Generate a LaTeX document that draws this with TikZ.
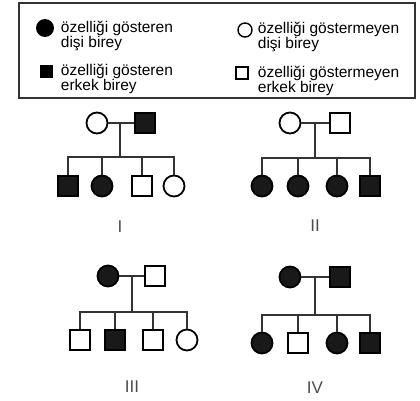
\documentclass[tikz,border=0pt]{standalone}
\usepackage{fontspec}
\setmainfont{Liberation Sans}
\begin{document}
\begin{tikzpicture}[x=1pt,y=-1pt,
  line width=1.8pt,
  fem/.style={circle,draw=black,line width=1.8pt,minimum size=21pt,inner sep=0pt},
  mal/.style={rectangle,draw=black,line width=1.8pt,minimum size=20pt,inner sep=0pt},
  aff/.style={fill=black!90},
  una/.style={fill=white},
  legtxt/.style={anchor=north west,inner sep=0pt,align=left,font=\fontsize{15.5}{15}\selectfont,text=black},
  lbl/.style={font=\fontsize{17}{18}\selectfont,text=black!70},
  ln/.style={draw=black!80,line width=2pt}
]
\useasboundingbox (0,0) rectangle (420,401);
% legend
\draw[draw=black!80,line width=2.2pt] (19,3) rectangle (415,98);
\node[circle,fill=black,minimum size=18pt,inner sep=0pt] (lc1) at (45,28) {};
\node[legtxt] (lt1) at (60,20) {özelliği gösteren\\dişi birey};
\node[rectangle,fill=black,minimum size=13pt,inner sep=0pt] (ls1) at (46,72) {};
\node[legtxt] (lt2) at (60,63) {özelliği gösteren\\erkek birey};
\node[circle,draw=black,line width=1.4pt,minimum size=14pt,inner sep=0pt] (lc2) at (245,30) {};
\node[legtxt] (lt3) at (257,21.5) {özelliği göstermeyen\\dişi birey};
\node[rectangle,draw=black,line width=1.4pt,minimum size=12pt,inner sep=0pt] (ls2) at (242,73) {};
\node[legtxt] (lt4) at (257,65) {özelliği göstermeyen\\erkek birey};

% ---------- I ----------
\node[fem,una] (m1) at (97,123) {};
\node[mal,aff] (f1) at (145,123) {};
\coordinate (j1) at (120,123);
\coordinate (s1) at (120,157);
\node[mal,aff] (a1) at (68,186) {};
\node[fem,aff] (b1) at (102,186) {};
\node[mal,una] (c1) at (142,186) {};
\node[fem,una] (d1) at (174,186) {};
\draw[ln] (m1) -- (f1);
\draw[ln] (j1) -- (s1);
\draw[ln] (a1.north) |- (s1) -| (d1.north);
\draw[ln] (b1.north) -- (b1.north |- s1);
\draw[ln] (c1.north) -- (c1.north |- s1);
\node[lbl] (L1) at (120,227) {I};

% ---------- II ----------
\node[fem,una] (m2) at (290,123) {};
\node[mal,una] (f2) at (340,123) {};
\coordinate (j2) at (315,123);
\coordinate (s2) at (315,158);
\node[fem,aff] (a2) at (262,186) {};
\node[fem,aff] (b2) at (298,186) {};
\node[fem,aff] (c2) at (337,186) {};
\node[mal,aff] (d2) at (370,186) {};
\draw[ln] (m2) -- (f2);
\draw[ln] (j2) -- (s2);
\draw[ln] (a2.north) |- (s2) -| (d2.north);
\draw[ln] (b2.north) -- (b2.north |- s2);
\draw[ln] (c2.north) -- (c2.north |- s2);
\node[lbl] (L2) at (315,226) {II};

% ---------- III ----------
\node[fem,aff] (m3) at (108,276) {};
\node[mal,una] (f3) at (155,276) {};
\coordinate (j3) at (132,276);
\coordinate (s3) at (132,312);
\node[mal,una] (a3) at (80,340) {};
\node[mal,aff] (b3) at (115,340) {};
\node[mal,una] (c3) at (153,340) {};
\node[fem,una] (d3) at (187,340) {};
\draw[ln] (m3) -- (f3);
\draw[ln] (j3) -- (s3);
\draw[ln] (a3.north) |- (s3) -| (d3.north);
\draw[ln] (b3.north) -- (b3.north |- s3);
\draw[ln] (c3.north) -- (c3.north |- s3);
\node[lbl] (L3) at (132,387) {III};

% ---------- IV ----------
\node[fem,aff] (m4) at (290,277) {};
\node[mal,aff] (f4) at (340,277) {};
\coordinate (j4) at (315,277);
\coordinate (s4) at (315,315);
\node[fem,aff] (a4) at (262,343) {};
\node[mal,una] (b4) at (298,343) {};
\node[fem,aff] (c4) at (337,343) {};
\node[mal,aff] (d4) at (370,343) {};
\draw[ln] (m4) -- (f4);
\draw[ln] (j4) -- (s4);
\draw[ln] (a4.north) |- (s4) -| (d4.north);
\draw[ln] (b4.north) -- (b4.north |- s4);
\draw[ln] (c4.north) -- (c4.north |- s4);
\node[lbl] (L4) at (315,388) {IV};
\end{tikzpicture}
\end{document}
